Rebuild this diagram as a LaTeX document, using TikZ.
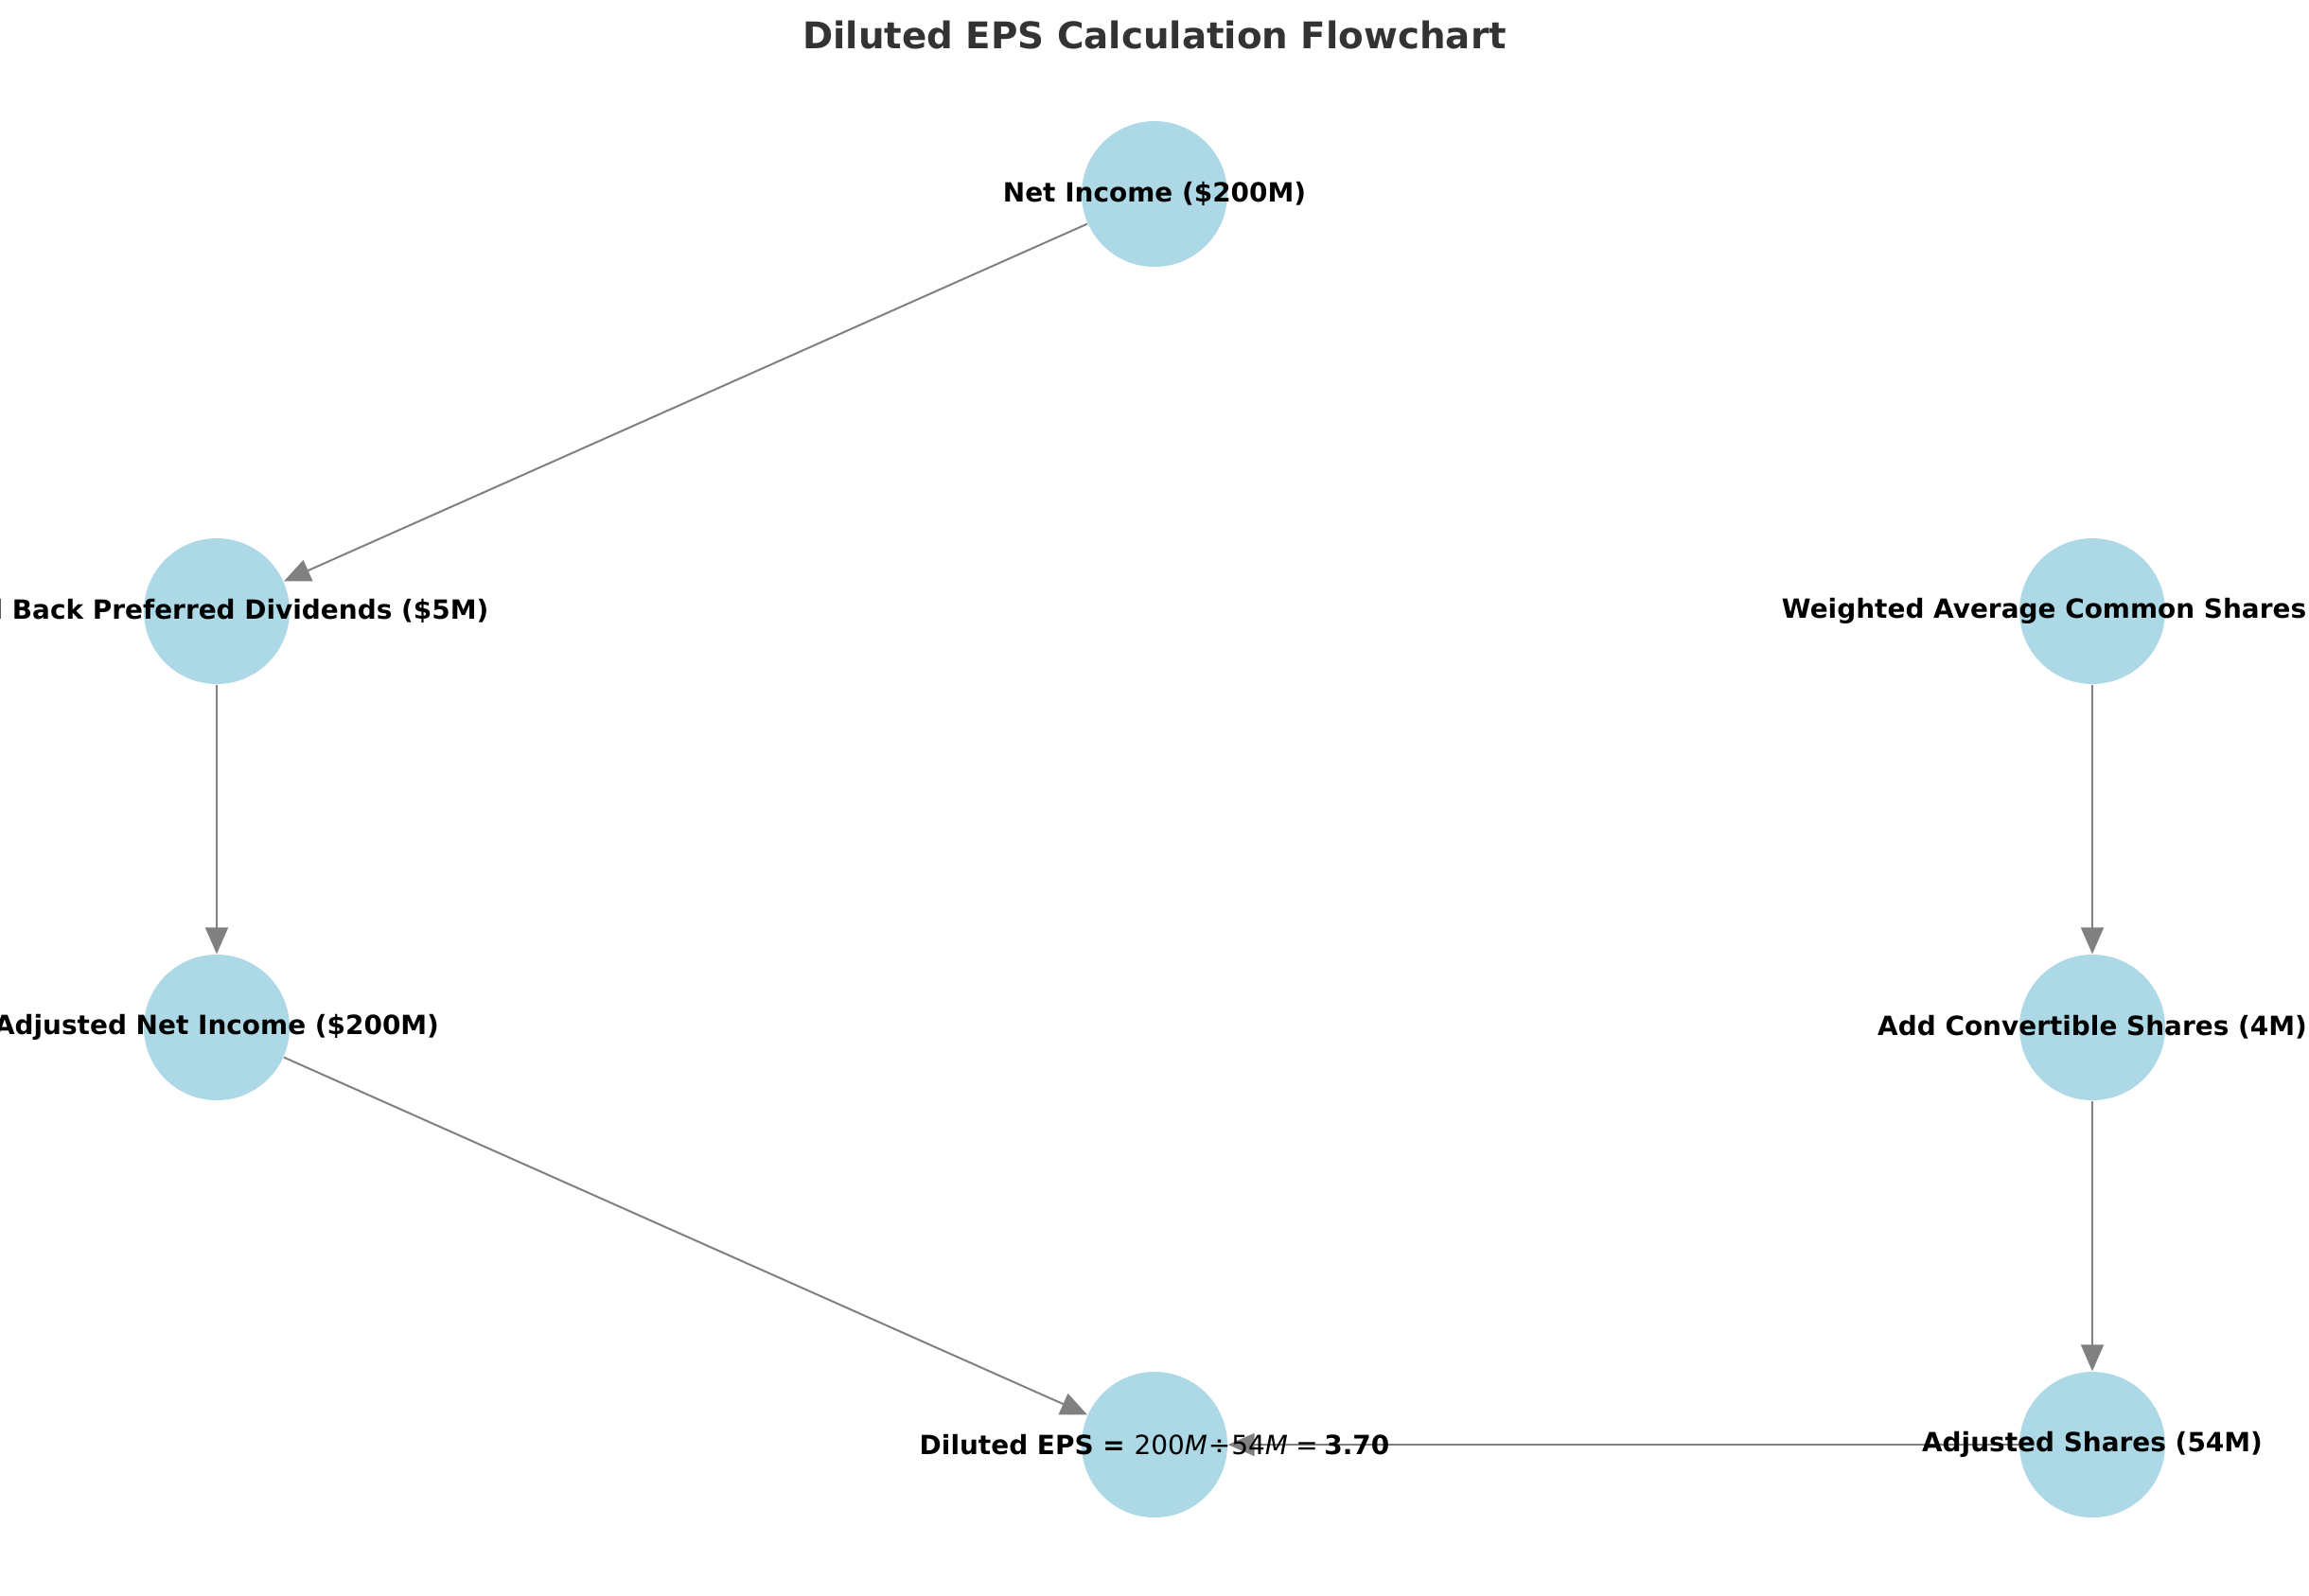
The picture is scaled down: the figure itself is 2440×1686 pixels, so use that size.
\documentclass[tikz,border=0pt]{standalone}
\usepackage{fontspec}
\setmainfont{DejaVu Sans}
\usetikzlibrary{arrows.meta}
\definecolor{nodeblue}{HTML}{ADD8E6}
\definecolor{edgegray}{HTML}{808080}
\definecolor{titlegray}{HTML}{333333}
\begin{document}
\begin{tikzpicture}[x=0.3pt,y=-0.3pt,
  stepcircle/.style={circle,fill=nodeblue,draw=none,minimum size=46.2pt,inner sep=0pt},
  steplabel/.style={inner sep=0pt,font=\bfseries\fontsize{8.38}{10}\selectfont,text=black},
  flowedge/.style={draw=edgegray,line width=0.6pt,-{Triangle[length=8.4pt,width=7.2pt]}},
  titlestyle/.style={inner sep=0pt,font=\bfseries\fontsize{11.64}{14}\selectfont,text=titlegray},
]
\useasboundingbox (0,0) rectangle (2440,1686);
\clip (0,0) rectangle (2440,1686);

\node[titlestyle] (title) at (1220,37) {Diluted EPS Calculation Flowchart};

% circles
\node[stepcircle] (ni)  at (1220,205)  {};
\node[stepcircle] (ab)  at (229,646)   {};
\node[stepcircle] (wa)  at (2211,646)  {};
\node[stepcircle] (ani) at (229,1086)  {};
\node[stepcircle] (ac)  at (2211,1086) {};
\node[stepcircle] (de)  at (1220,1527) {};
\node[stepcircle] (as)  at (2211,1527) {};

% edges
\draw[flowedge] (ni) -- (ab);
\draw[flowedge] (ab) -- (ani);
\draw[flowedge] (ani) -- (de);
\draw[flowedge] (wa) -- (ac);
\draw[flowedge] (ac) -- (as);
\draw[flowedge] (as) -- (de);

% labels
\node[steplabel] (niL)  at (ni)  {Net Income (\$200M)};
\node[steplabel] (abL)  at (ab)  {Add Back Preferred Dividends (\$5M)};
\node[steplabel] (waL)  at (wa)  {Weighted Average Common Shares (50M)};
\node[steplabel] (aniL) at (ani) {Adjusted Net Income (\$200M)};
\node[steplabel] (acL)  at (ac)  {Add Convertible Shares (4M)};
\node[steplabel] (asL)  at (as)  {Adjusted Shares (54M)};
\node[steplabel] (deL)  at (de)  {Diluted EPS = {\mdseries 200\textit{M}\kern0.3pt÷\kern0.3pt54\textit{M}\kern2.5pt=}\kern2pt3.70};
\end{tikzpicture}
\end{document}
